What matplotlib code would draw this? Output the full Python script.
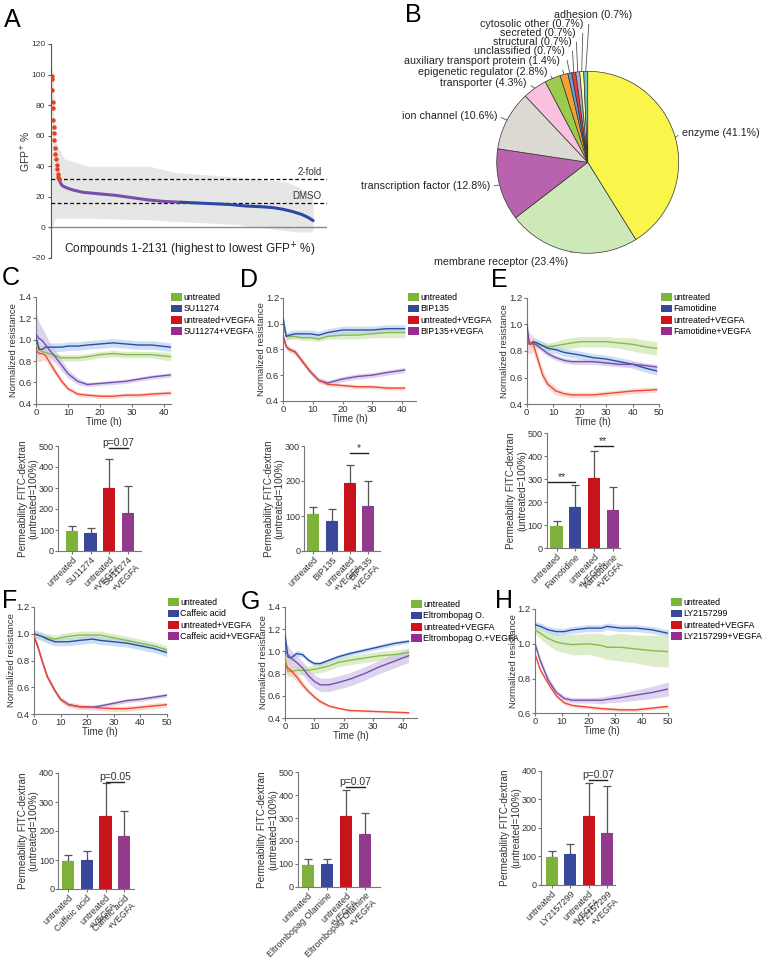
import numpy as np
import matplotlib
matplotlib.use("Agg")
import matplotlib.pyplot as plt
from matplotlib.patches import Patch
from matplotlib.transforms import offset_copy

plt.rcParams['font.family'] = ['Liberation Sans', 'DejaVu Sans']
plt.rcParams['axes.linewidth'] = 0.8

W, H = 762, 961
fig = plt.figure(figsize=(W / 100, H / 100), dpi=100)


def add_ax(l, t, r, b):
    return fig.add_axes([l / W, 1 - b / H, (r - l) / W, (b - t) / H])


def fx(x):
    return x / W


def fy(y):
    return 1 - y / H


# ---------------- Panel A data ----------------
a_idx = [0, 3, 5, 8, 10, 13, 16, 19, 23, 27, 31, 35, 40, 45, 50, 56, 61]
a_red = [99, 97, 90, 82, 78, 70, 66, 62, 57, 52, 48, 45, 41, 38, 35, 33, 32]
a_line_idx = [61, 67, 80, 93, 120, 173, 253, 386, 519, 653, 786, 919, 1052, 1185,
              1319, 1452, 1585, 1718, 1798, 1878, 1958, 2038, 2091, 2131]
a_line = [32, 30, 28, 27, 26, 24.5, 23, 22, 21, 19.5, 18, 17, 16.5, 16,
          15.5, 15, 14, 13.5, 13, 12, 10.5, 8.5, 6.5, 4.5]
a_err_idx = [0, 15, 20, 40, 100, 300, 800, 1000, 1500, 1900, 2000, 2100, 2131]
a_err_hi = [105, 100, 62, 55, 45, 40, 40, 36, 33, 30, 27, 22, 18]
a_err_lo = [0, 2, 5, 6, 6, 6, 5, 4, 2, -2, -3, -3, -2]
a_twofold = 31.5
a_dmso = 15.7

# ---------------- Panel B data ----------------
b_labels = ['enzyme', 'membrane receptor', 'transcription factor', 'ion channel',
            'transporter', 'epigenetic regulator', 'auxiliary transport protein',
            'unclassified', 'structural', 'secreted', 'cytosolic other', 'adhesion']
b_values = [41.1, 23.4, 12.8, 10.6, 4.3, 2.8, 1.4, 0.7, 0.7, 0.7, 0.7, 0.7]
b_colors = ['#f9f54a', '#cde9b8', '#b962ad', '#dcd9d2', '#f9c1df', '#9ccc4c',
            '#f6a231', '#5f9fd3', '#ee3b3b', '#b9a7d6', '#ffff9c', '#6cc4c4']

# ---------------- Line panels data ----------------
c_t = [0, 1, 2, 3, 4, 6, 8, 10, 13, 16, 20, 24, 28, 32, 36, 42]
c_green = [0.95, 0.90, 0.89, 0.88, 0.87, 0.85, 0.83, 0.83, 0.83, 0.84, 0.86, 0.87, 0.86, 0.86, 0.86, 0.84]
c_blue = [1.02, 0.91, 0.91, 0.93, 0.93, 0.93, 0.93, 0.94, 0.94, 0.95, 0.96, 0.97, 0.96, 0.95, 0.95, 0.93]
c_red = [0.90, 0.87, 0.87, 0.85, 0.80, 0.70, 0.61, 0.54, 0.49, 0.48, 0.47, 0.47, 0.48, 0.48, 0.49, 0.50]
c_purple = [1.05, 1.01, 0.99, 0.95, 0.91, 0.84, 0.76, 0.68, 0.61, 0.58, 0.59, 0.60, 0.61, 0.63, 0.65, 0.67]
c_green_sd = [0.05, 0.03, 0.03, 0.03, 0.03, 0.03, 0.03, 0.03, 0.03, 0.03, 0.03, 0.03, 0.03, 0.03, 0.03, 0.04]
c_blue_sd = [0.10, 0.04, 0.04, 0.04, 0.04, 0.04, 0.04, 0.04, 0.04, 0.04, 0.04, 0.04, 0.04, 0.04, 0.04, 0.04]
c_red_sd = [0.10, 0.08, 0.06, 0.05, 0.04, 0.03, 0.03, 0.02, 0.02, 0.02, 0.02, 0.02, 0.02, 0.02, 0.02, 0.02]
c_purple_sd = [0.20, 0.15, 0.12, 0.10, 0.08, 0.06, 0.05, 0.04, 0.03, 0.02, 0.02, 0.02, 0.02, 0.02, 0.02, 0.02]

d_t = [0, 1, 2, 4, 6, 9, 12, 15, 20, 25, 30, 35, 41]
d_green = [0.98, 0.90, 0.90, 0.90, 0.89, 0.89, 0.88, 0.90, 0.91, 0.91, 0.92, 0.93, 0.93]
d_blue = [1.03, 0.90, 0.91, 0.92, 0.92, 0.92, 0.91, 0.93, 0.95, 0.95, 0.95, 0.96, 0.96]
d_red = [0.90, 0.82, 0.80, 0.78, 0.72, 0.63, 0.56, 0.53, 0.52, 0.51, 0.51, 0.50, 0.50]
d_purple = [0.90, 0.82, 0.80, 0.78, 0.72, 0.63, 0.56, 0.54, 0.57, 0.59, 0.60, 0.62, 0.64]
d_green_sd = [0.03, 0.02, 0.02, 0.02, 0.02, 0.02, 0.02, 0.02, 0.03, 0.03, 0.03, 0.04, 0.04]
d_blue_sd = [0.04, 0.03, 0.03, 0.03, 0.03, 0.03, 0.03, 0.03, 0.03, 0.03, 0.03, 0.03, 0.03]
d_red_sd = [0.02, 0.02, 0.02, 0.02, 0.02, 0.015, 0.015, 0.015, 0.015, 0.015, 0.015, 0.015, 0.015]
d_purple_sd = [0.03, 0.02, 0.02, 0.02, 0.02, 0.02, 0.02, 0.02, 0.02, 0.02, 0.02, 0.02, 0.02]

e_t = [0, 1, 2.5, 4, 6, 8, 11, 14, 17, 20, 25, 30, 35, 40, 45, 49]
e_green = [0.95, 0.86, 0.86, 0.85, 0.84, 0.83, 0.84, 0.85, 0.86, 0.87, 0.87, 0.87, 0.86, 0.85, 0.83, 0.82]
e_blue = [1.00, 0.85, 0.87, 0.86, 0.84, 0.82, 0.81, 0.79, 0.78, 0.77, 0.75, 0.74, 0.72, 0.70, 0.67, 0.65]
e_red = [0.90, 0.86, 0.85, 0.75, 0.62, 0.55, 0.50, 0.48, 0.47, 0.47, 0.47, 0.48, 0.49, 0.50, 0.505, 0.51]
e_purple = [0.95, 0.85, 0.86, 0.84, 0.81, 0.78, 0.75, 0.73, 0.72, 0.72, 0.72, 0.71, 0.70, 0.70, 0.69, 0.68]
e_green_sd = [0.04, 0.03, 0.03, 0.03, 0.03, 0.03, 0.03, 0.04, 0.04, 0.04, 0.04, 0.04, 0.04, 0.05, 0.05, 0.05]
e_blue_sd = [0.06, 0.03, 0.03, 0.03, 0.03, 0.03, 0.03, 0.03, 0.03, 0.03, 0.03, 0.03, 0.03, 0.03, 0.03, 0.03]
e_red_sd = [0.12, 0.08, 0.06, 0.05, 0.04, 0.03, 0.03, 0.02, 0.02, 0.02, 0.02, 0.02, 0.02, 0.02, 0.02, 0.02]
e_purple_sd = [0.04, 0.03, 0.02, 0.02, 0.02, 0.02, 0.02, 0.02, 0.02, 0.02, 0.02, 0.02, 0.02, 0.02, 0.02, 0.02]

f_t = [0, 1.5, 3, 5, 8, 10, 13, 17, 22, 25, 30, 35, 40, 45, 50]
f_green = [1.00, 0.99, 0.98, 0.97, 0.96, 0.97, 0.98, 0.99, 0.99, 0.99, 0.97, 0.95, 0.93, 0.91, 0.88]
f_blue = [1.00, 0.99, 0.98, 0.96, 0.94, 0.94, 0.94, 0.95, 0.96, 0.95, 0.94, 0.93, 0.91, 0.89, 0.86]
f_red = [0.98, 0.90, 0.80, 0.68, 0.57, 0.51, 0.47, 0.455, 0.45, 0.445, 0.44, 0.44, 0.45, 0.46, 0.47]
f_purple = [0.98, 0.90, 0.80, 0.68, 0.57, 0.51, 0.47, 0.455, 0.45, 0.46, 0.48, 0.50, 0.51, 0.525, 0.54]
f_green_sd = [0.03] * 15
f_blue_sd = [0.03] * 15
f_red_sd = [0.02] * 15
f_purple_sd = [0.015] * 15

g_t = [0, 1, 2, 4, 6, 8, 10, 12, 15, 18, 22, 27, 32, 37, 42]
g_green = [0.95, 0.82, 0.82, 0.83, 0.83, 0.83, 0.84, 0.85, 0.87, 0.90, 0.92, 0.94, 0.96, 0.97, 0.99]
g_blue = [1.15, 0.95, 0.94, 0.98, 0.97, 0.92, 0.89, 0.89, 0.92, 0.95, 0.98, 1.01, 1.04, 1.07, 1.09]
g_red = [0.88, 0.85, 0.83, 0.77, 0.70, 0.64, 0.59, 0.55, 0.51, 0.49, 0.47, 0.465, 0.46, 0.455, 0.45]
g_purple = [1.00, 0.97, 0.94, 0.90, 0.85, 0.78, 0.73, 0.70, 0.70, 0.72, 0.75, 0.80, 0.86, 0.91, 0.96]
g_green_sd = [0.06, 0.05, 0.05, 0.04, 0.04, 0.04, 0.04, 0.04, 0.04, 0.04, 0.04, 0.04, 0.04, 0.04, 0.04]
g_blue_sd = [0.04, 0.03, 0.03, 0.03, 0.02, 0.02, 0.02, 0.02, 0.02, 0.02, 0.02, 0.02, 0.02, 0.02, 0.02]
g_red_sd = [0.08, 0.06, 0.05, 0.04, 0.03, 0.02, 0.02, 0.02, 0.01, 0.01, 0.01, 0.01, 0.01, 0.01, 0.01]
g_purple_sd = [0.10, 0.08, 0.07, 0.06, 0.06, 0.06, 0.06, 0.06, 0.06, 0.06, 0.06, 0.06, 0.06, 0.06, 0.06]

h_t = [0, 2, 5, 8, 11, 14, 20, 25, 27, 32, 38, 44, 50]
h_green = [1.08, 1.06, 1.03, 1.01, 1.00, 0.995, 1.00, 0.99, 0.98, 0.98, 0.97, 0.96, 0.955]
h_blue = [1.11, 1.10, 1.08, 1.07, 1.07, 1.08, 1.09, 1.09, 1.10, 1.09, 1.09, 1.08, 1.06]
h_red = [0.94, 0.85, 0.77, 0.70, 0.66, 0.645, 0.635, 0.627, 0.625, 0.62, 0.62, 0.63, 0.64]
h_purple = [1.00, 0.90, 0.79, 0.72, 0.685, 0.675, 0.675, 0.675, 0.68, 0.69, 0.705, 0.72, 0.74]
h_green_sd = [0.02, 0.03, 0.04, 0.05, 0.05, 0.06, 0.06, 0.07, 0.07, 0.08, 0.08, 0.09, 0.09]
h_blue_sd = [0.02] * 13
h_red_sd = [0.01] * 13
h_purple_sd = [0.02, 0.02, 0.02, 0.015, 0.015, 0.015, 0.015, 0.02, 0.02, 0.025, 0.03, 0.035, 0.04]

# ---------------- Bar panels data ----------------
c_names = ['untreated', 'SU11274', 'untreated\n+VEGFA', 'SU11274\n+VEGFA']
c_mean = [95, 85, 300, 183]
c_err = [22, 24, 138, 125]
d_names = ['untreated', 'BIP135', 'untreated\n+VEGFA', 'BIP135\n+VEGFA']
d_mean = [105, 85, 193, 128]
d_err = [20, 35, 52, 72]
e_names = ['untreated', 'Famotidine', 'untreated\n+VEGFA', 'Famotidine\n+VEGFA']
e_mean = [97, 180, 305, 165]
e_err = [23, 97, 117, 100]
f_names = ['untreated', 'Caffeic acid', 'untreated\n+VEGFA', 'Caffeic acid\n+VEGFA']
f_mean = [98, 100, 253, 183]
f_err = [20, 30, 112, 85]
g_names = ['untreated', 'Eltrombopag Olamine', 'untreated\n+VEGFA', 'Eltrombopag Olamine\n+VEGFA']
g_mean = [97, 100, 307, 230]
g_err = [22, 22, 115, 90]
h_names = ['untreated', 'LY2157299', 'untreated\n+VEGFA', 'LY2157299\n+VEGFA']
h_mean = [98, 108, 240, 183]
h_err = [22, 35, 117, 165]

LINE_COLORS = ['#86bd4a', '#2d4ea6', '#ee4a2c', '#7650ad']
BAND_COLORS = ['#cfe6b3', '#b9d3ef', '#f8c9c6', '#cfc2e6']
LEG_COLORS = ['#7db53b', '#38479a', '#d0121c', '#9b2a8e']
BAR_COLORS = ['#7fb23a', '#3a489b', '#c8131d', '#923a8c']
TXT = '#333333'
SPINE = '#777777'


def style_axes(ax, size=6.5):
    for s in ['top', 'right']:
        ax.spines[s].set_visible(False)
    for s in ['left', 'bottom']:
        ax.spines[s].set_color(SPINE)
    ax.tick_params(colors=SPINE, labelcolor=TXT, labelsize=size, length=2, width=0.8, pad=1)


def ylabel_px(ax, rect, offset_px):
    ax.yaxis.set_label_coords(-offset_px / (rect[2] - rect[0]), 0.5)


def line_panel(rect, t, ys, sds, xlim, ylim, yticks, xticks, names, leg_xy):
    ax = add_ax(*rect)
    order = [0, 1, 3, 2]
    for i in order:
        y = np.array(ys[i]); sd = np.array(sds[i])
        ax.fill_between(t, y - sd, y + sd, color=BAND_COLORS[i], alpha=0.7, lw=0, zorder=1)
    for i in order:
        ax.plot(t, ys[i], color=LINE_COLORS[i], lw=1.0, zorder=3)
    ax.set_xlim(*xlim)
    ax.set_ylim(*ylim)
    ax.set_yticks(yticks)
    ax.set_yticklabels([f'{v:.1f}' for v in yticks])
    ax.set_xticks(xticks)
    style_axes(ax, 6.8)
    ax.set_xlabel('Time (h)', fontsize=7, color=TXT, labelpad=0)
    ax.set_ylabel('Normalized resistance', fontsize=6.8, color=TXT)
    ylabel_px(ax, rect, 17.5)
    handles = [Patch(facecolor=c, edgecolor='none') for c in LEG_COLORS]
    ax.legend(handles, names, loc='upper left', bbox_to_anchor=(fx(leg_xy[0]), fy(leg_xy[1])),
              bbox_transform=fig.transFigure, frameon=False, fontsize=6.3, borderpad=0,
              handlelength=1.2, handleheight=1.0, handletextpad=0.2, labelspacing=0.28,
              borderaxespad=0)
    return ax


def bar_panel(rect, names, mean, err, ylim, yticks, xlim, sig):
    ax = add_ax(*rect)
    x = np.arange(len(mean))
    ax.bar(x, mean, width=0.66, color=BAR_COLORS, zorder=2)
    ax.errorbar(x, mean, yerr=[[0] * len(err), err], fmt='none', ecolor='#555555',
                elinewidth=0.9, capsize=3, capthick=0.9, zorder=1)
    ax.set_xlim(*xlim)
    ax.set_ylim(*ylim)
    ax.set_yticks(yticks)
    ax.set_xticks(x)
    fs = 6.4
    first = [n.split('\n')[0] for n in names]
    ax.set_xticklabels(first, rotation=45, ha='right', va='top', rotation_mode='anchor',
                       fontsize=fs)
    # second text lines, offset one line height perpendicular to the rotated text
    L = fs * 1.1
    for xi, n in zip(x, names):
        parts = n.split('\n')
        if len(parts) > 1:
            tr = offset_copy(ax.get_xaxis_transform(), fig=fig,
                             x=L * 0.7071, y=-3 - L * 0.7071, units='points')
            ax.text(xi, 0, parts[1], transform=tr, rotation=45, ha='right', va='top',
                    rotation_mode='anchor', fontsize=fs, color=TXT, clip_on=False)
    style_axes(ax, 6.5)
    ax.set_ylabel('Permeability FITC-dextran\n(untreated=100%)', fontsize=7.2,
                  color=TXT, linespacing=1.1)
    ylabel_px(ax, rect, 19.5)
    for (i0, i1, yv, label) in sig:
        ax.plot([i0, i1], [yv, yv], color='#222222', lw=1.0, clip_on=False)
        ax.text((i0 + i1) / 2, yv, label, ha='center', va='bottom', fontsize=7.5,
                color=TXT, clip_on=False)
    return ax


# ---------------- Panel A ----------------
rectA = (51, 44, 327, 258)
axA = add_ax(*rectA)
axA.fill_between(a_err_idx, a_err_lo, a_err_hi, color='#dcdcdc', alpha=0.7, lw=0, zorder=1)
axA.axhline(0, color='#888888', lw=1.0, zorder=2)
axA.axhline(a_twofold, color='black', lw=0.9, ls=(0, (3, 2)), zorder=3)
axA.axhline(a_dmso, color='black', lw=0.9, ls=(0, (3, 2)), zorder=3)
split = 12
axA.plot(a_line_idx[:split + 1], a_line[:split + 1], color='#7a4dab', lw=2.2, zorder=4,
         solid_capstyle='round')
axA.plot(a_line_idx[split:], a_line[split:], color='#2c48a5', lw=2.2, zorder=4,
         solid_capstyle='round')
axA.plot(a_idx, a_red, ls='none', marker='o', ms=2.2, color='#e6411b', zorder=5)
axA.set_xlim(-5, 2244)
axA.set_ylim(-20, 120)
axA.set_yticks(range(-20, 121, 20))
for s in ['top', 'right', 'bottom']:
    axA.spines[s].set_visible(False)
axA.spines['left'].set_color('#555555')
axA.set_xticks([])
axA.tick_params(axis='y', colors='#555555', labelcolor=TXT, labelsize=6, length=2.5, pad=1.5)
axA.set_ylabel('GFP$^{+}$ %', fontsize=7.5, color=TXT)
ylabel_px(axA, rectA, 19)
axA.text(2200, a_twofold + 1.8, '2-fold', ha='right', va='bottom', fontsize=7, color=TXT)
axA.text(2200, a_dmso + 1.8, 'DMSO', ha='right', va='bottom', fontsize=7, color=TXT)
fig.text(fx(190), fy(250), 'Compounds 1-2131 (highest to lowest GFP$^{+}$ %)',
         ha='center', va='center', fontsize=8.5, color='#222222')

# ---------------- Panel B ----------------
cx, cy, r = 587.7, 162.3, 91
axB = add_ax(cx - r, cy - r, cx + r, cy + r)
wedges, _ = axB.pie(b_values, colors=b_colors, startangle=90, counterclock=False,
                    wedgeprops=dict(edgecolor='#333333', linewidth=0.5))
axB.set_xlim(-1, 1)
axB.set_ylim(-1, 1)
axB.axis('off')
b_text_pos = [(682, 133, 'left'), (568, 262, 'right'), (490, 186, 'right'),
              (497, 116, 'right'), (527, 83, 'right'), (547, 72, 'right'),
              (560, 61, 'right'), (565, 51, 'right'), (572, 42, 'right'),
              (576, 33, 'right'), (583, 24, 'right'), (593, 15, 'center')]
total = sum(b_values)
cum = 0
for lab, v, (tx, ty, ha) in zip(b_labels, b_values, b_text_pos):
    mid = 90 - 360 * (cum + v / 2) / total
    cum += v
    px, py = np.cos(np.radians(mid)), np.sin(np.radians(mid))
    relpos = {'left': (0, 0.5), 'right': (1, 0.5), 'center': (0.45, 0)}[ha]
    axB.annotate(f'{lab} ({v}%)', xy=(px, py), xycoords='data',
                 xytext=(fx(tx), fy(ty)), textcoords='figure fraction',
                 ha=ha, va='center', fontsize=7.7, color='#222222',
                 arrowprops=dict(arrowstyle='-', color='#555555', lw=0.6,
                                 shrinkA=1, shrinkB=0, relpos=relpos))

# ---------------- Line panels ----------------
line_panel((36, 297, 170.8, 403.7), c_t, [c_green, c_blue, c_red, c_purple],
           [c_green_sd, c_blue_sd, c_red_sd, c_purple_sd], (0, 42), (0.4, 1.4),
           [0.4, 0.6, 0.8, 1.0, 1.2, 1.4], [0, 10, 20, 30, 40],
           ['untreated', 'SU11274', 'untreated+VEGFA', 'SU11274+VEGFA'], (171, 293))
line_panel((283.3, 297.7, 416.5, 401), d_t, [d_green, d_blue, d_red, d_purple],
           [d_green_sd, d_blue_sd, d_red_sd, d_purple_sd], (0, 45), (0.4, 1.2),
           [0.4, 0.6, 0.8, 1.0, 1.2], [0, 10, 20, 30, 40],
           ['untreated', 'BIP135', 'untreated+VEGFA', 'BIP135+VEGFA'], (408, 293))
line_panel((526.7, 297.7, 659.3, 404.3), e_t, [e_green, e_blue, e_red, e_purple],
           [e_green_sd, e_blue_sd, e_red_sd, e_purple_sd], (0, 50), (0.4, 1.2),
           [0.4, 0.6, 0.8, 1.0, 1.2], [0, 10, 20, 30, 40, 50],
           ['untreated', 'Famotidine', 'untreated+VEGFA', 'Famotidine+VEGFA'], (661, 293))
line_panel((34, 607, 166.7, 714), f_t, [f_green, f_blue, f_red, f_purple],
           [f_green_sd, f_blue_sd, f_red_sd, f_purple_sd], (0, 50), (0.4, 1.2),
           [0.4, 0.6, 0.8, 1.0, 1.2], [0, 10, 20, 30, 40, 50],
           ['untreated', 'Caffeic acid', 'untreated+VEGFA', 'Caffeic acid+VEGFA'], (168, 598))
line_panel((285, 606.7, 417.4, 718.3), g_t, [g_green, g_blue, g_red, g_purple],
           [g_green_sd, g_blue_sd, g_red_sd, g_purple_sd], (0, 45), (0.4, 1.4),
           [0.4, 0.6, 0.8, 1.0, 1.2, 1.4], [0, 10, 20, 30, 40],
           ['untreated', 'Eltrombopag O.', 'untreated+VEGFA', 'Eltrombopag O.+VEGFA'], (411, 600))
line_panel((535, 609, 668.3, 713.3), h_t, [h_green, h_blue, h_red, h_purple],
           [h_green_sd, h_blue_sd, h_red_sd, h_purple_sd], (0, 50), (0.6, 1.2),
           [0.6, 0.8, 1.0, 1.2], [0, 10, 20, 30, 40, 50],
           ['untreated', 'LY2157299', 'untreated+VEGFA', 'LY2157299+VEGFA'], (671, 598))

# ---------------- Bar panels ----------------
bar_panel((58, 446, 141, 551), c_names, c_mean, c_err, (0, 500), range(0, 501, 100),
          (-0.75, 3.7), [(2, 3, 490, 'p=0.07')])
bar_panel((304.3, 446, 380, 551), d_names, d_mean, d_err, (0, 300), range(0, 301, 100),
          (-0.5, 3.64), [(2, 3, 280, '*')])
bar_panel((546.7, 433.3, 620, 548.3), e_names, e_mean, e_err, (0, 500), range(0, 501, 100),
          (-0.53, 3.39), [(-0.45, 1, 290, '**'), (2, 3, 445, '**')])
bar_panel((58.3, 773, 134, 889), f_names, f_mean, f_err, (0, 400), range(0, 401, 100),
          (-0.54, 3.53), [(2, 3, 369, 'p=0.05')])
bar_panel((297.7, 772.3, 380, 886.7), g_names, g_mean, g_err, (0, 500), range(0, 501, 100),
          (-0.54, 3.79), [(2, 3, 435, 'p=0.07')])
bar_panel((540.7, 770.7, 615, 885), h_names, h_mean, h_err, (0, 400), range(0, 401, 100),
          (-0.59, 3.42), [(2, 3, 367, 'p=0.07')])

# ---------------- Panel letters ----------------
for letter, x, y in [('A', 4, 8), ('B', 405, 3), ('C', 2, 266), ('D', 240, 268),
                     ('E', 491, 268), ('F', 2, 589), ('G', 241, 590), ('H', 495, 589)]:
    fig.text(fx(x), fy(y), letter, ha='left', va='top', fontsize=18, color='black')

fig.savefig('out.png', dpi=100, facecolor='white')
